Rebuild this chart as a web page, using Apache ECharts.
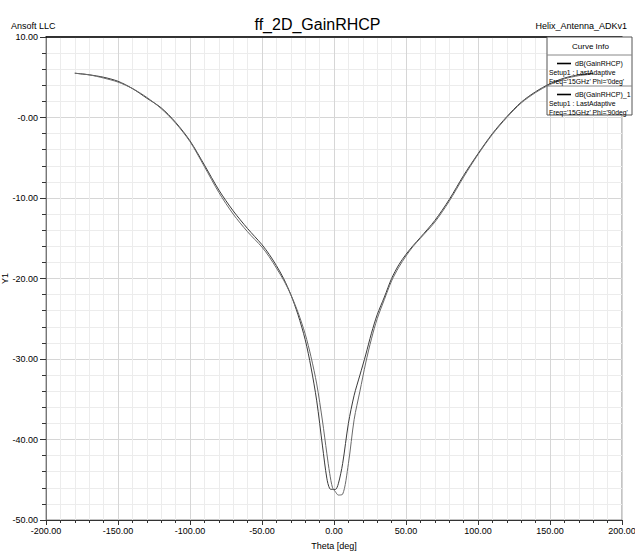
<!DOCTYPE html>
<html>
<head>
<meta charset="utf-8">
<script src="https://cdn.jsdelivr.net/npm/echarts@6/dist/echarts.min.js"></script>
<style>
html,body{margin:0;padding:0;background:#fff;}
#chart{width:635px;height:551px;}
</style>
</head>
<body>
<div id="chart"></div>
<script>
// ---- data ----
var theta = [-180,-170,-160,-150,-140,-130,-120,-110,-100,-90,-80,-70,-60,-50,-45,-40,-35,-30,-25,-20,-16,-12,-8,-5,-3,-1,1,3,6,10,14,18,22,26,30,35,40,45,50,55,60,70,80,90,100,110,120,130,140,150,160,170,180];
var gainPhi0 = [5.5,5.3,5.0,4.5,3.6,2.4,1.2,-0.6,-2.9,-5.9,-9.0,-11.6,-13.8,-15.8,-17.0,-18.4,-20.0,-22.0,-24.5,-27.6,-31.0,-35.2,-40.8,-44.8,-46.1,-46.2,-46.2,-45.5,-43.0,-38.0,-34.5,-32.0,-29.5,-26.8,-24.5,-22.3,-20.0,-18.3,-17.0,-15.9,-14.9,-12.8,-10.2,-7.2,-4.5,-2.0,0.1,1.9,3.2,4.2,4.9,5.3,5.5];
var gainPhi90 = [5.5,5.3,4.9,4.4,3.6,2.5,1.1,-0.7,-3.0,-6.1,-9.3,-12.0,-14.2,-16.1,-17.3,-18.7,-20.2,-22.0,-24.2,-26.9,-29.7,-33.1,-37.7,-41.7,-44.2,-46.0,-46.5,-46.9,-46.8,-43.0,-37.5,-34.0,-30.5,-27.5,-25.0,-22.6,-20.3,-18.6,-17.2,-16.0,-15.0,-13.0,-10.4,-7.4,-4.6,-2.1,0.0,1.8,3.1,4.1,4.8,5.2,5.4];
var seriesNames = ['dB(GainRHCP)','dB(GainRHCP)_1'];
var legendSetup = ['Setup1 : LastAdaptive','Setup1 : LastAdaptive'];
var legendFreq = ["Freq='15GHz' Phi='0deg'","Freq='15GHz' Phi='90deg'"];
var xTickValues = [-200,-150,-100,-50,0,50,100,150,200];
var xTickLabels = ['-200.00','-150.00','-100.00','-50.00','0.00','50.00','100.00','150.00','200.00'];
var yTickValues = [-50,-40,-30,-20,-10,0,10];
var yTickLabels = ['-50.00','-40.00','-30.00','-20.00','-10.00','-0.00','10.00'];

var FONT = '"Liberation Sans Narrow","Arial Narrow","Liberation Sans",sans-serif';

function pairs(xs, ys){ var o=[]; for(var i=0;i<xs.length;i++) o.push([xs[i], ys[i]]); return o; }
function lookup(vals, labels, v){ for(var i=0;i<vals.length;i++){ if(Math.abs(vals[i]-v)<1e-6) return labels[i]; } return ''; }

var chart = echarts.init(document.getElementById('chart'), null, {renderer:'svg'});
var gridLeft = 46, gridRight = 13, gridTop = 37, gridBottom = 31;

var option = {
  animation: false,
  backgroundColor: '#ffffff',
  title: [
    {text: 'ff_2D_GainRHCP', left: 'center', top: 11, textStyle:{fontFamily:FONT, fontSize:16, fontWeight:'normal', color:'#000'}},
    {text: 'Ansoft LLC', left: 6, top: 16, textStyle:{fontFamily:FONT, fontSize:9, fontWeight:'normal', color:'#000'}},
    {text: 'Helix_Antenna_ADKv1', right: 3, top: 16, textStyle:{fontFamily:FONT, fontSize:9, fontWeight:'normal', color:'#000'}}
  ],
  grid: {left: gridLeft, right: gridRight, top: gridTop, bottom: gridBottom, show: true, borderColor: '#888', borderWidth: 1,
         containLabel: false, outerBoundsMode: 'none'},
  xAxis: [{
    type: 'value', min: -200, max: 200, interval: 50,
    name: 'Theta [deg]', nameLocation: 'middle', nameGap: 21, nameMoveOverlap: false,
    nameTextStyle: {fontFamily: FONT, fontSize: 9, color: '#000'},
    axisLine: {onZero: false, lineStyle: {color: '#333', width: 1}},
    axisTick: {show: true, length: 5, lineStyle: {color: '#333'}},
    minorTick: {show: true, splitNumber: 5, length: 3, lineStyle: {color: '#333'}},
    splitLine: {show: true, lineStyle: {color: '#d6d6d6', width: 1}},
    minorSplitLine: {show: true, lineStyle: {color: '#ececec', width: 1}},
    axisLabel: {fontFamily: FONT, fontSize: 9, color: '#000', margin: 6,
      formatter: function(v){ return lookup(xTickValues, xTickLabels, v); }}
  },{
    type: 'value', position: 'top', min: -200, max: 200, interval: 50,
    axisLine: {show: true, onZero: false, lineStyle: {color: '#000', width: 1.5}},
    axisTick: {show: false}, axisLabel: {show: false}, splitLine: {show: false}
  }],
  yAxis: {
    type: 'value', min: -50, max: 10, interval: 10,
    name: 'Y1', nameLocation: 'middle', nameGap: 37, nameRotate: 90, nameMoveOverlap: false,
    nameTextStyle: {fontFamily: FONT, fontSize: 9, color: '#000'},
    axisLine: {show: true, onZero: false, lineStyle: {color: '#777', width: 1}},
    axisTick: {show: true, length: 6, lineStyle: {color: '#333'}},
    minorTick: {show: true, splitNumber: 5, length: 4, lineStyle: {color: '#333'}},
    splitLine: {show: true, lineStyle: {color: '#d6d6d6', width: 1}},
    minorSplitLine: {show: true, lineStyle: {color: '#ececec', width: 1}},
    axisLabel: {fontFamily: FONT, fontSize: 9, color: '#000', margin: 8,
      formatter: function(v){ return lookup(yTickValues, yTickLabels, v); }}
  },
  legend: {
    orient: 'vertical', left: 548, top: 59, padding: 0, itemGap: 4,
    itemWidth: 0, itemHeight: 0, icon: 'rect', selectedMode: false,
    data: seriesNames,
    formatter: function(name){
      var i = seriesNames.indexOf(name);
      return '{pad| }{ln| }{t|' + name + '}\n{s|' + legendSetup[i] + '}\n{s|' + legendFreq[i] + '}';
    },
    textStyle: {
      fontFamily: FONT, fontSize: 7, color: '#000', lineHeight: 9,
      rich: {
        pad: {width: 4, fontSize: 7, fontFamily: FONT},
        ln: {width: 14, height: 1.6, backgroundColor: '#000', fontSize: 7},
        t: {fontFamily: FONT, fontSize: 7, color: '#000', padding: [0,0,0,4], lineHeight: 9},
        s: {fontFamily: FONT, fontSize: 6.8, color: '#000', padding: [0,0,0,-4], lineHeight: 9}
      }
    }
  },
  graphic: [
    {type: 'rect', z: 3, shape: {x: 547, y: 37, width: 85, height: 78},
     style: {fill: '#fff', stroke: '#555', lineWidth: 1}},
    {type: 'line', z: 3, shape: {x1: 547, y1: 55, x2: 632, y2: 55}, style: {stroke: '#888', lineWidth: 1}},
    {type: 'line', z: 3, shape: {x1: 547, y1: 86, x2: 632, y2: 86}, style: {stroke: '#888', lineWidth: 1}},
    {type: 'text', z: 5, left: 572, top: 42, style: {text: 'Curve Info', fontFamily: FONT, fontSize: 8, fill: '#000'}}
  ],
  series: [
    {name: seriesNames[0], type: 'line', data: pairs(theta, gainPhi0), smooth: 0.3, showSymbol: false,
     lineStyle: {color: '#3a3a3a', width: 1}, itemStyle: {color: '#000'}},
    {name: seriesNames[1], type: 'line', data: pairs(theta, gainPhi90), smooth: 0.3, showSymbol: false,
     lineStyle: {color: '#6a6a6a', width: 1}, itemStyle: {color: '#000'}}
  ]
};
chart.setOption(option);
</script>
</body>
</html>
